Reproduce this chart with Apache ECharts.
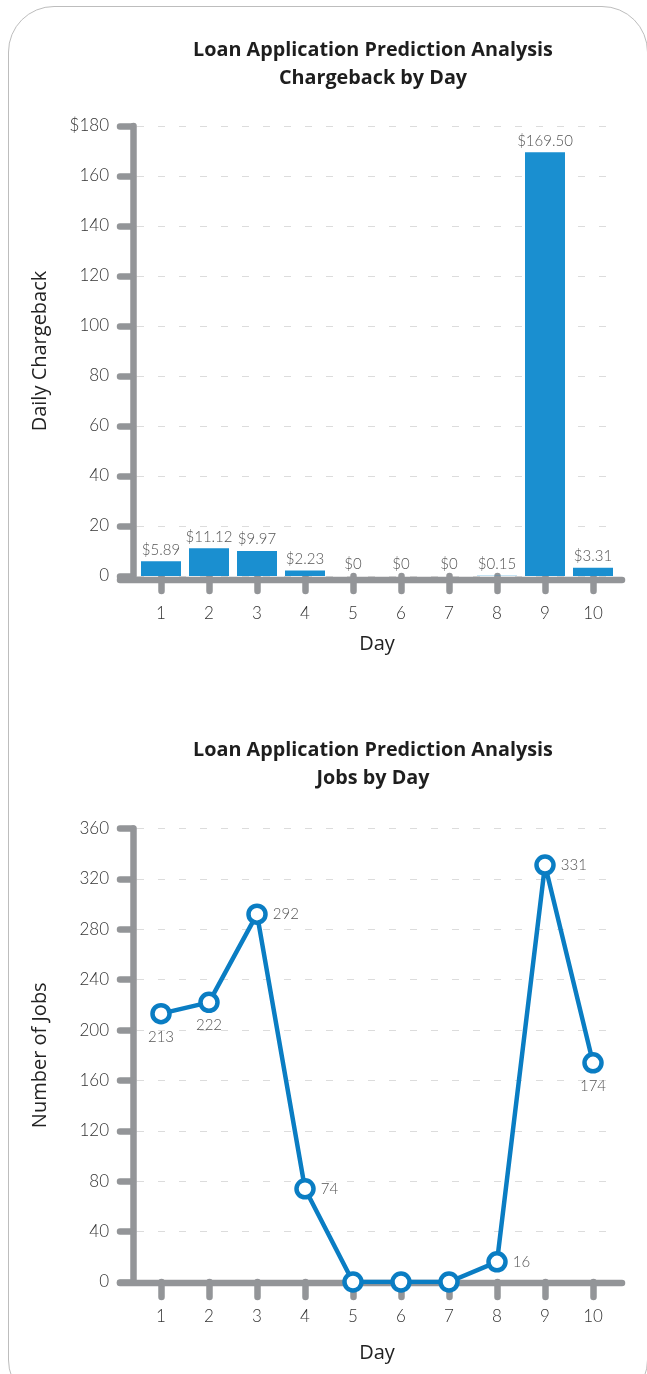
<!DOCTYPE html>
<html>
<head>
<meta charset="utf-8">
<script src="https://cdn.jsdelivr.net/npm/echarts@6/dist/echarts.min.js"></script>
<style>
  html, body { margin: 0; padding: 0; background: #fff; overflow: hidden; }
  #frame { position: absolute; left: 8px; top: 6px; width: 640px; height: 1400px;
           border: 1.5px solid #bdbdbd; border-radius: 46px; box-sizing: border-box; }
  #chart { position: absolute; left: 0; top: 0; width: 647px; height: 1374px; }
</style>
</head>
<body>
<div id="frame"></div>
<div id="chart"></div>
<script>
// ---- data ----
const days = ['1', '2', '3', '4', '5', '6', '7', '8', '9', '10'];
const chargeback = [5.89, 11.12, 9.97, 2.23, 0, 0, 0, 0.15, 169.50, 3.31];
const jobs = [213, 222, 292, 74, 0, 0, 0, 16, 331, 174];
const chargebackTicks = { min: 0, max: 180, interval: 20 };
const jobsTicks = { min: 0, max: 360, interval: 40 };
const title1 = 'Loan Application Prediction Analysis\nChargeback by Day';
const title2 = 'Loan Application Prediction Analysis\nJobs by Day';

// ---- styles ----
const AXIS_GRAY = '#939598';
const BAR_BLUE = '#1a8fd0';
const LINE_BLUE = '#0a7dc3';
const LABEL_FONT = 'Lato';
const jobLabelPos = ['bottom', 'bottom', 'right', 'right', 'right', 'right', 'right', 'right', 'right', 'bottom'];

const chart = echarts.init(document.getElementById('chart'), null, { renderer: 'canvas' });

function xAxisCfg(gridIndex, offset, nameGap) {
  return {
    type: 'category', gridIndex, data: days, offset,
    boundaryGap: true,
    axisLine: { show: false },
    axisTick: { show: true, alignWithLabel: true, length: 15,
      lineStyle: { color: AXIS_GRAY, width: 6.5, cap: 'round' } },
    axisLabel: { margin: 25, fontSize: 17, color: '#333', fontFamily: LABEL_FONT, fontWeight: 300 },
    name: 'Day', nameLocation: 'middle', nameGap,
    nameTextStyle: { fontSize: 20, color: '#222', fontFamily: 'Open Sans' }
  };
}
function yAxisCfg(gridIndex, ticks, name, fmt) {
  return {
    type: 'value', gridIndex, min: ticks.min, max: ticks.max, interval: ticks.interval,
    offset: 4,
    axisLine: { show: true, lineStyle: { color: AXIS_GRAY, width: 6.5, cap: 'round' } },
    axisTick: { show: true, length: 13, lineStyle: { color: AXIS_GRAY, width: 6.5, cap: 'round' } },
    axisLabel: { margin: 24, fontSize: 17, color: '#333', fontFamily: LABEL_FONT, fontWeight: 300, formatter: fmt },
    splitLine: { show: true, lineStyle: { color: '#dcdcdc', type: [7, 14], width: 1.2 } },
    name, nameLocation: 'middle', nameGap: 83, nameRotate: 90,
    nameTextStyle: { fontSize: 20, color: '#222', fontFamily: 'Open Sans' }
  };
}

const titleStyle = { fontSize: 19.8, fontWeight: 'bold', color: '#1e1e1e', fontFamily: 'Open Sans', lineHeight: 28 };
const option = {
  animation: false,
  title: [
    { text: title1, left: 368, top: 31, textAlign: 'center', textStyle: titleStyle },
    { text: title2, left: 368, top: 731, textAlign: 'center', textStyle: titleStyle }
  ],
  grid: [
    { left: 137, width: 480, top: 126, height: 450 },
    { left: 137, width: 480, top: 828.5, height: 453.5 }
  ],
  xAxis: [xAxisCfg(0, 4, 54), xAxisCfg(1, 1, 60)],
  yAxis: [
    yAxisCfg(0, chargebackTicks, 'Daily Chargeback', v => (v === chargebackTicks.max ? '$' + v : String(v))),
    yAxisCfg(1, jobsTicks, 'Number of Jobs', v => String(v))
  ],
  series: [
    {
      type: 'bar', xAxisIndex: 0, yAxisIndex: 0, data: chargeback,
      barWidth: 40, itemStyle: { color: BAR_BLUE },
      label: { show: true, position: 'top', distance: 4, fontSize: 15, color: '#555',
        fontFamily: LABEL_FONT, fontWeight: 300,
        formatter: p => '$' + (p.value === 0 ? '0' : p.value.toFixed(2)) }
    },
    {
      type: 'line', xAxisIndex: 1, yAxisIndex: 1,
      data: jobs.map((v, i) => ({ value: v, label: { position: jobLabelPos[i], show: v !== 0 } })),
      lineStyle: { color: LINE_BLUE, width: 4.5 },
      symbol: 'circle', symbolSize: 17,
      itemStyle: { color: '#fff', borderColor: LINE_BLUE, borderWidth: 4.5 },
      label: { show: true, distance: 5, fontSize: 15, color: '#555', fontFamily: LABEL_FONT, fontWeight: 300 },
      z: 5
    }
  ]
};
chart.setOption(option);

// Extended horizontal axis lines (as in the reference, they reach slightly past the plot)
function axisLineGraphic(gridIndex, offset) {
  const p0 = chart.convertToPixel({ xAxisIndex: gridIndex, yAxisIndex: gridIndex }, [0, 0]);
  const y = p0[1] + offset;
  return { type: 'line', z: 3,
    shape: { x1: 120, y1: y, x2: 622, y2: y },
    style: { stroke: AXIS_GRAY, lineWidth: 6.5, lineCap: 'round' } };
}
chart.setOption({ graphic: [axisLineGraphic(0, 4), axisLineGraphic(1, 1)] });
</script>
</body>
</html>
